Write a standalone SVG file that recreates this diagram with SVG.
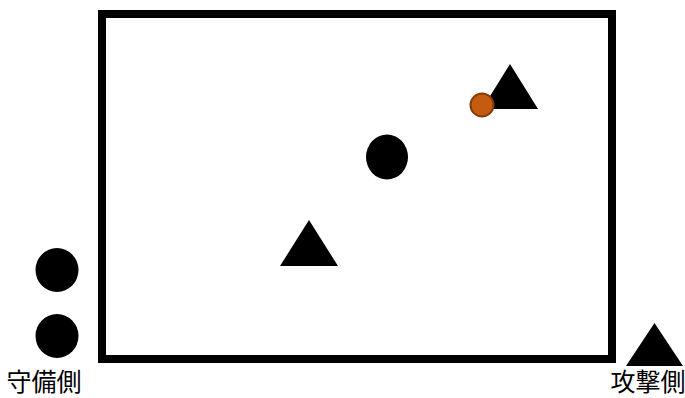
<svg xmlns="http://www.w3.org/2000/svg" width="685" height="398" viewBox="0 0 685 398">
<style>
.pc{fill:#000}
.lbl{font-family:"Noto Sans CJK JP","Noto Sans CJK SC",sans-serif;font-size:25px;fill:#000;text-anchor:middle}
</style>
<rect width="685" height="398" fill="#fff"/>
<g id="field"><rect x="102" y="14" width="510" height="345" fill="none" stroke="#000" stroke-width="8"/></g>
<g id="defender1"><ellipse class="pc" cx="57" cy="270" rx="21.5" ry="22"/></g>
<g id="defender2"><ellipse class="pc" cx="57" cy="336" rx="21.5" ry="22"/></g>
<g id="defender3"><ellipse class="pc" cx="387" cy="157" rx="21" ry="22.5"/></g>
<g id="attacker1"><polygon class="pc" points="482,109 538,109 510,64"/></g>
<g id="attacker2"><polygon class="pc" points="280,266 338,266 309,220"/></g>
<g id="attacker3"><polygon class="pc" points="626,366 683,366 654.5,323"/></g>
<g id="ball"><circle cx="482" cy="105" r="11.5" fill="#c55a11" stroke="#843c0c" stroke-width="2"/></g>
<g id="label-def"><text class="lbl" x="44" y="391">守備側</text></g>
<g id="label-att"><text class="lbl" x="648" y="391">攻撃側</text></g>
<g id="connectors"/>
</svg>
